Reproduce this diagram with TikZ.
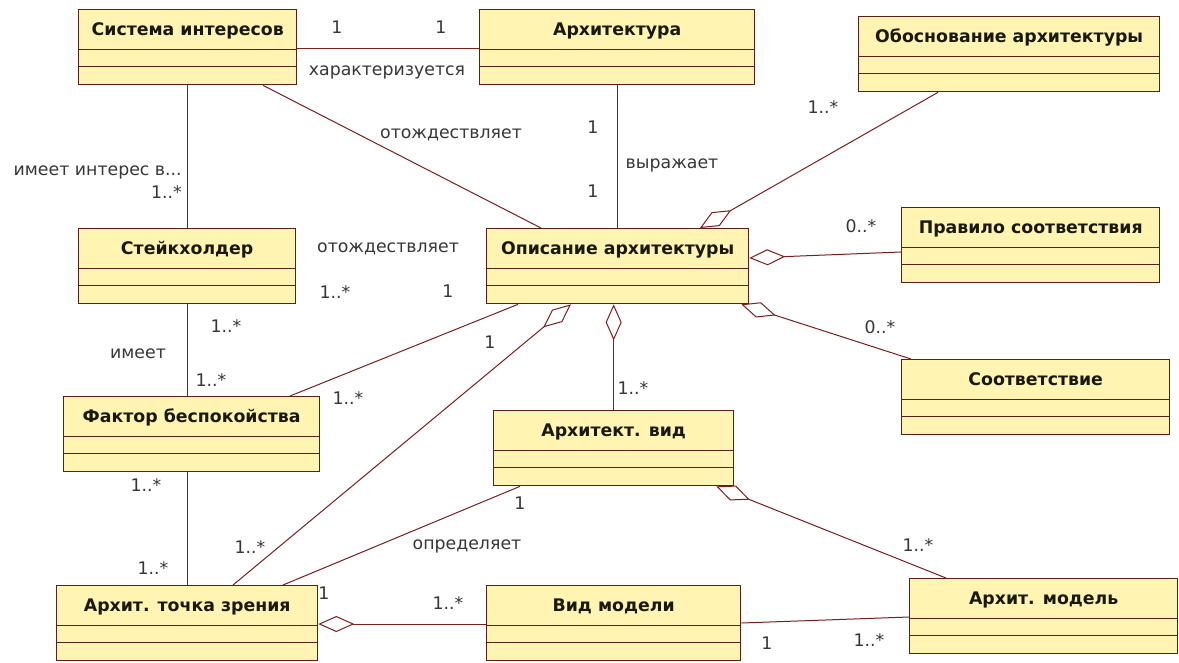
\documentclass[tikz,border=0pt]{standalone}
\usepackage{fontspec}
\setmainfont{DejaVu Sans}
\usetikzlibrary{arrows.meta,calc}

\definecolor{boxfill}{RGB}{255,244,178}
\definecolor{boxline}{RGB}{90,32,22}
\definecolor{linecol}{RGB}{120,32,32}
\definecolor{lbltext}{RGB}{55,55,55}
\definecolor{titletext}{RGB}{25,25,10}

\tikzset{
  classbox/.style={draw=boxline, fill=boxfill, line width=1pt, rectangle, anchor=north west,
    inner xsep=0pt, inner ysep=0pt, text height=19.5pt, text depth=36.75pt, minimum height=56.25pt,
    text=titletext, font=\fontsize{13}{15}\selectfont\bfseries,
    path picture={\draw[boxline, line width=0.9pt]
      ([yshift=-30pt]path picture bounding box.north west) -- ([yshift=-30pt]path picture bounding box.north east)
      ([yshift=-42.75pt]path picture bounding box.north west) -- ([yshift=-42.75pt]path picture bounding box.north east);}},
  mult/.style={anchor=base, inner sep=0pt, text=lbltext, font=\fontsize{13}{15}\selectfont},
  assoc/.style={draw=linecol, line width=0.75pt},
  agg/.style={assoc, arrows={Diamond[open,length=27pt,width=12pt]-}}
}

\begin{document}
\begin{tikzpicture}[x=0.75pt,y=-0.75pt]
% Canvas
\path[fill=white] (0,0) rectangle (1179,662);
% Classes
\node[classbox, minimum width=163.5pt] (sys) at (78,9) {Система интересов};
\node[classbox, minimum width=206.25pt] (arch) at (479,9) {Архитектура};
\node[classbox, minimum width=225.75pt] (rat) at (858,16) {Обоснование архитектуры};
\node[classbox, minimum width=162.75pt] (stk) at (78,228) {Стейкхолдер};
\node[classbox, minimum width=196.5pt] (ad) at (486,228) {Описание архитектуры};
\node[classbox, minimum width=193.5pt] (rule) at (901,207) {Правило соответствия};
\node[classbox, minimum width=201pt] (corr) at (901,359) {Соответствие};
\node[classbox, minimum width=192pt] (con) at (63,396) {Фактор беспокойства};
\node[classbox, minimum width=180pt] (view) at (493,410) {Архитект. вид};
\node[classbox, minimum width=195.75pt] (vp) at (56,585) {Архит. точка зрения};
\node[classbox, minimum width=190.5pt] (mv) at (486,585) {Вид модели};
\node[classbox, minimum width=201pt] (model) at (909,578) {Архит. модель};
% Associations
\draw[assoc] ($(sys.north east)+(0,39)$) -- ($(arch.north west)+(0,39)$);
\draw[assoc] (sys.south) -- (sys.south |- stk.north);
\draw[assoc] ($(sys.south west)+(185,0)$) -- ($(ad.north west)+(55,0)$);
\draw[assoc] (arch.south) -- (arch.south |- ad.north);
\draw[assoc] ($(ad.south west)+(32,0)$) -- ($(con.north west)+(227,0)$);
\draw[assoc] (stk.south) -- (stk.south |- con.north);
\draw[assoc] (vp.north |- con.south) -- (vp.north);
\draw[assoc] ($(view.south west)+(27,0)$) -- ($(vp.north west)+(227,0)$);
\draw[assoc] ($(mv.north east)+(0,38)$) -- ($(model.north west)+(0,39)$);
% Aggregations
\draw[agg] ($(ad.north west)+(214,0)$) -- ($(rat.south west)+(80,0)$);
\draw[agg] ($(ad.north east)+(0,30)$) -- ($(rule.north west)+(0,45)$);
\draw[agg] ($(ad.south east)+(-8,0)$) -- ($(corr.north west)+(10,0)$);
\draw[agg] (ad.south -| view.north) -- (view.north);
\draw[agg] ($(ad.south west)+(85,0)$) -- ($(vp.north west)+(177,0)$);
\draw[agg] ($(vp.north east)+(0,39)$) -- ($(mv.north west)+(0,39)$);
\draw[agg] ($(view.south east)+(-18,0)$) -- ($(model.north west)+(37,0)$);
% Multiplicities and role names
\node[mult] (sysArchA) at (337,33) {1};
\node[mult] (sysArchB) at (441,33) {1};
\node[mult] (sysArchName) at (387,75) {характеризуется};
\node[mult] (sysAdName) at (451,138) {отождествляет};
\node[mult, anchor=base east] (sysStkName) at (182,175) {имеет интерес в...};
\node[mult, anchor=base east] (sysStkB) at (182,198) {1..*};
\node[mult] (archAdA) at (593,133) {1};
\node[mult] (archAdB) at (593,197) {1};
\node[mult] (archAdName) at (672,168) {выражает};
\node[mult] (ratAd) at (823,113) {1..*};
\node[mult] (stkAdName) at (388,252) {отождествляет};
\node[mult] (stkAdA) at (335,298) {1..*};
\node[mult] (stkAdB) at (448,297) {1};
\node[mult] (ruleAd) at (861,232) {0..*};
\node[mult] (corrAd) at (880,333) {0..*};
\node[mult] (stkConA) at (226,332) {1..*};
\node[mult] (stkConName) at (138,358) {имеет};
\node[mult] (stkConB) at (211,386) {1..*};
\node[mult] (adCon) at (348,404) {1..*};
\node[mult] (adVpA) at (490,348) {1};
\node[mult] (adView) at (633,394) {1..*};
\node[mult] (conVpA) at (146,491) {1..*};
\node[mult] (adVpB) at (250,553) {1..*};
\node[mult] (conVpB) at (153,574) {1..*};
\node[mult] (viewVpA) at (520,509) {1};
\node[mult] (viewVpName) at (467,549) {определяет};
\node[mult] (viewVpB) at (324,599) {1};
\node[mult] (vpMv) at (448,609) {1..*};
\node[mult] (mvModelA) at (767,649) {1};
\node[mult] (mvModelB) at (869,646) {1..*};
\node[mult] (viewModel) at (918,551) {1..*};
\end{tikzpicture}
\end{document}
